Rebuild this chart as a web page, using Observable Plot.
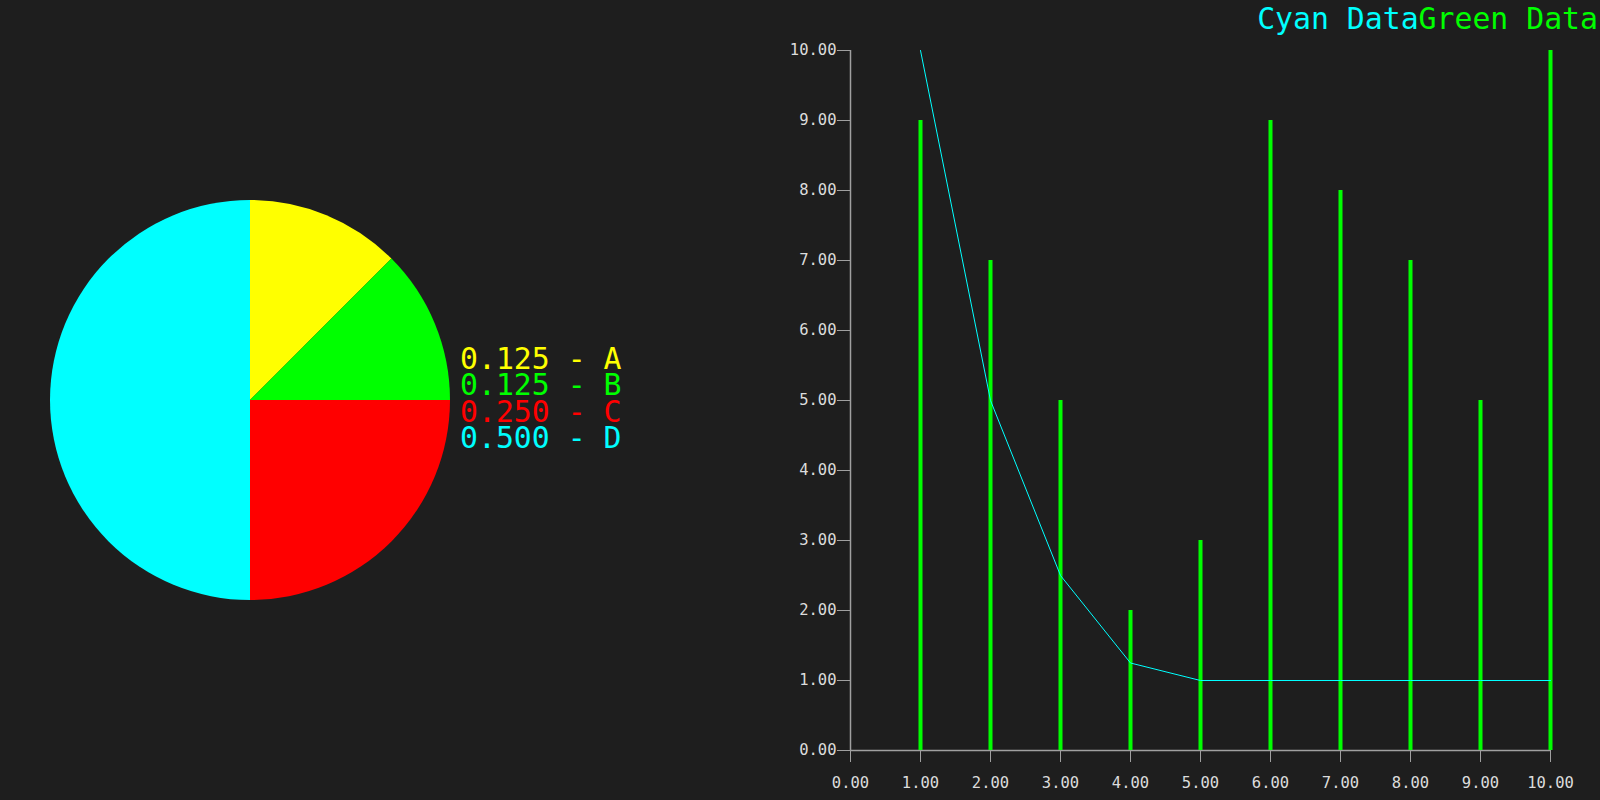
<!DOCTYPE html>
<html>
<head>
<meta charset="utf-8">
<script src="https://cdn.jsdelivr.net/npm/d3@7"></script>
<script src="https://cdn.jsdelivr.net/npm/@observablehq/plot@0.6"></script>
<style>
  html, body { margin: 0; padding: 0; background: #1e1e1e; width: 1600px; height: 800px; overflow: hidden; }
  body { position: relative; font-family: "DejaVu Sans Mono", monospace; }
  #pie { position: absolute; left: 0; top: 0; }
  #chart { position: absolute; left: 760px; top: 0; }
  #legend { position: absolute; left: 460px; top: 346px; font-size: 29.8px; line-height: 26.3px; white-space: pre; }
  #title { position: absolute; right: 2px; top: 1px; font-size: 29.8px; line-height: normal; white-space: pre; }
</style>
</head>
<body>
<div id="pie"></div>
<div id="legend"></div>
<div id="chart"></div>
<div id="title"></div>
<script>
// ---- Data ----
const pieLabels = ["A", "B", "C", "D"];
const pieValues = [0.125, 0.125, 0.25, 0.5];
const pieColors = ["#ffff00", "#00ff00", "#ff0000", "#00ffff"];

const xValues = [1, 2, 3, 4, 5, 6, 7, 8, 9, 10];
const greenValues = [9, 7, 5, 2, 3, 9, 8, 7, 5, 10];
const cyanValues = [10, 5, 2.5, 1.25, 1, 1, 1, 1, 1, 1];
const axisTicks = [0, 1, 2, 3, 4, 5, 6, 7, 8, 9, 10];

const seriesNames = ["Cyan Data", "Green Data"];
const seriesColors = ["#00ffff", "#00ff00"];

// ---- Pie ----
const pieData = pieLabels.map((k, i) => ({ label: k, value: pieValues[i], color: pieColors[i] }));
const arcs = d3.pie().sort(null).value(d => d.value)(pieData);

const pieMark = (index, scales, values, dimensions) => {
  const cx = scales.x(0), cy = scales.y(0);
  const r = scales.x(1) - scales.x(0);
  const arc = d3.arc().innerRadius(0).outerRadius(r);
  const g = d3.create("svg:g").attr("transform", `translate(${cx},${cy})`);
  g.selectAll("path").data(arcs).join("path")
    .attr("d", arc)
    .attr("fill", d => d.data.color);
  return g.node();
};

const piePlot = Plot.plot({
  width: 760, height: 800,
  margin: 0,
  style: { background: "transparent" },
  x: { domain: [-1, 1], range: [50, 450], axis: null },
  y: { domain: [-1, 1], range: [600, 200], axis: null },
  marks: [pieMark]
});
document.getElementById("pie").appendChild(piePlot);

const legend = document.getElementById("legend");
pieData.forEach(d => {
  const div = document.createElement("div");
  div.style.color = d.color;
  div.textContent = `${d.value.toFixed(3)} - ${d.label}`;
  legend.appendChild(div);
});

// ---- Line / bar chart ----
const rows = xValues.map((x, i) => ({ x, green: greenValues[i], cyan: cyanValues[i] }));
const fmt = d3.format(".2f");

const chart = Plot.plot({
  width: 840, height: 800,
  marginLeft: 90, marginRight: 50, marginTop: 50, marginBottom: 50,
  style: { background: "transparent", fontFamily: "DejaVu Sans Mono, monospace", fontSize: "15.5px", color: "#dcdcdc" },
  x: { domain: [0, 10] },
  y: { domain: [0, 10] },
  marks: [
    Plot.axisX({ ticks: axisTicks, tickFormat: fmt, tickSize: 12, tickPadding: 14, stroke: "#a0a0a0", strokeOpacity: 1, fill: "#dcdcdc", label: null }),
    Plot.axisY({ ticks: axisTicks, tickFormat: fmt, tickSize: 13, tickPadding: 1, stroke: "#a0a0a0", strokeOpacity: 1, fill: "#dcdcdc", label: null }),
    Plot.ruleY([0], { x1: 0, x2: 10, stroke: "#a0a0a0", strokeWidth: 1.5 }),
    Plot.ruleX([0], { y1: 0, y2: 10, stroke: "#a0a0a0", strokeWidth: 1.5 }),
    Plot.ruleX(rows, { x: "x", y1: 0, y2: "green", stroke: seriesColors[1], strokeWidth: 4 }),
    Plot.line(rows, { x: "x", y: "cyan", stroke: seriesColors[0], strokeWidth: 1 })
  ]
});
document.getElementById("chart").appendChild(chart);

const title = document.getElementById("title");
seriesNames.forEach((n, i) => {
  const s = document.createElement("span");
  s.style.color = seriesColors[i];
  s.textContent = n;
  title.appendChild(s);
});
</script>
</body>
</html>
